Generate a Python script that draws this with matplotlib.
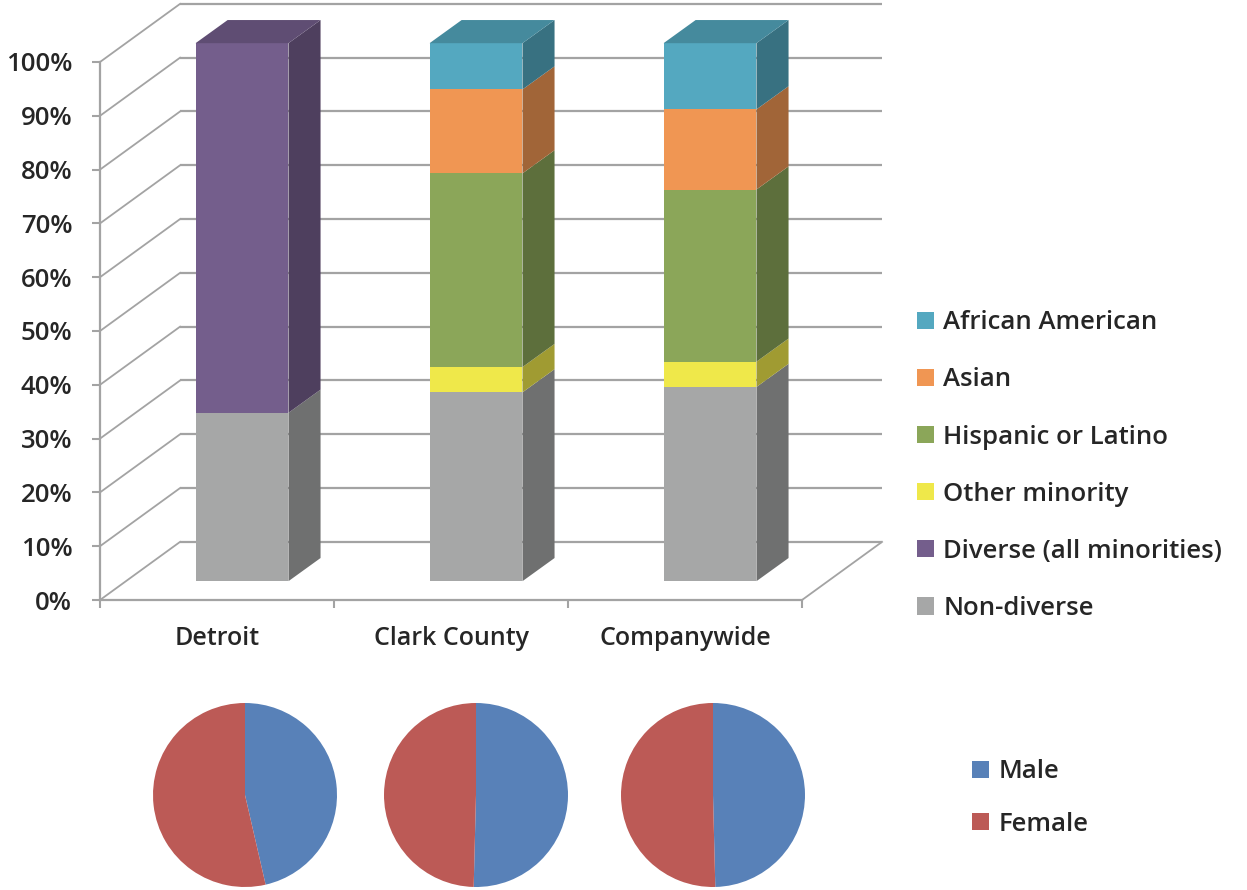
import matplotlib.pyplot as plt
from matplotlib.patches import Polygon, Patch
from matplotlib.colors import to_rgb

plt.rcParams['font.family'] = ['Open Sans', 'DejaVu Sans']
plt.rcParams['font.weight'] = 'semibold'

# Stacked shares (%) per location, bottom to top
locations = ["Detroit", "Clark County", "Companywide"]
series = ["Non-diverse", "Diverse (all minorities)", "Other minority",
          "Hispanic or Latino", "Asian", "African American"]
non_diverse = [31.3, 35.1, 36.1]
diverse_all = [68.7, 0.0, 0.0]
other_minority = [0.0, 4.7, 4.7]
hispanic = [0.0, 36.0, 32.0]
asian = [0.0, 15.6, 14.9]
african_american = [0.0, 8.6, 12.3]
stack = [non_diverse, diverse_all, other_minority, hispanic, asian, african_american]
colors = ["#A6A7A7", "#745E8C", "#EFE84A", "#8BA659", "#F09653", "#54A8C0"]

# Gender split (%) per location
male = [46.4, 50.4, 49.6]
female = [53.6, 49.6, 50.4]
gender_colors = ["#5881B8", "#BC5A56"]

TEXT = "#262626"
GRID = "#A3A3A3"
FS_TICK = 18.5
FS_CAT = 18
FS_LEG = 18.5

# oblique projection offsets (data units)
WALL_DX, WALL_DY = 0.342, 10.8
BAR_DX, BAR_DY = 0.107, 3.5
DEPTH_DX, DEPTH_DY = 0.137, 4.3
BAR_W = 0.397


def shade(c, f):
    r, g, b = to_rgb(c)
    return (r * f, g * f, b * f)


W, H = 1247, 890
fig = plt.figure(figsize=(W / 100, H / 100), dpi=100)
ax = fig.add_axes([100 / W, (H - 600) / H, 702 / W, 538 / H])
ax.set_xlim(0, 3)
ax.set_ylim(0, 100)
for s in ["top", "right"]:
    ax.spines[s].set_visible(False)
for s in ["left", "bottom"]:
    ax.spines[s].set_color(GRID)
    ax.spines[s].set_linewidth(1.6)

# walls and floor
levels = range(0, 101, 10)
for v in levels:
    ax.plot([WALL_DX, 3 + WALL_DX], [v + WALL_DY] * 2, color=GRID, lw=1.6,
            clip_on=False, zorder=1, solid_capstyle="butt")
    ax.plot([0, WALL_DX], [v, v + WALL_DY], color=GRID, lw=1.3,
            clip_on=False, zorder=1)
ax.plot([3, 3 + WALL_DX], [0, WALL_DY], color=GRID, lw=1.3, clip_on=False, zorder=1)

# stacked 3D bars
for i in range(len(locations)):
    x0 = i + 0.5 - BAR_W / 2 + BAR_DX
    x1 = x0 + BAR_W
    base = 0.0
    top_idx = max(k for k in range(len(stack)) if stack[k][i] > 0)
    for k, vals in enumerate(stack):
        v = vals[i]
        if v <= 0:
            continue
        b, t = base + BAR_DY, base + v + BAR_DY
        c = colors[k]
        ax.add_patch(Polygon([(x0, b), (x1, b), (x1, t), (x0, t)],
                             closed=True, fc=c, ec="none", zorder=3, clip_on=False))
        ax.add_patch(Polygon([(x1, b), (x1 + DEPTH_DX, b + DEPTH_DY),
                              (x1 + DEPTH_DX, t + DEPTH_DY), (x1, t)],
                             closed=True, fc=shade(c, 0.67), ec="none", zorder=3,
                             clip_on=False))
        if k == top_idx:
            ax.add_patch(Polygon([(x0, t), (x0 + DEPTH_DX, t + DEPTH_DY),
                                  (x1 + DEPTH_DX, t + DEPTH_DY), (x1, t)],
                                 closed=True, fc=shade(c, 0.82), ec="none",
                                 zorder=3, clip_on=False))
        base += v

ax.set_yticks(list(levels))
ax.set_yticklabels(["%d%%" % v for v in levels])
ax.set_xticks([0, 1, 2, 3])
ax.set_xticklabels([])
ax.set_xticks([0.5, 1.5, 2.5], minor=True)
ax.set_xticklabels(locations, minor=True)
ax.tick_params(axis="y", length=6, width=1.5, color=GRID, pad=14,
               labelsize=FS_TICK, labelcolor=TEXT)
ax.tick_params(axis="x", which="major", length=6, width=1.5, color=GRID)
ax.tick_params(axis="x", which="minor", length=0, pad=19,
               labelsize=FS_CAT, labelcolor=TEXT)

handles = [Patch(fc=colors[k], ec="none") for k in range(len(series))][::-1]
fig.legend(handles, series[::-1], loc="upper left",
           bbox_to_anchor=(907 / W, 1 - 300 / H), frameon=False,
           fontsize=FS_LEG, labelcolor=TEXT, handlelength=0.66, handleheight=0.66,
           handletextpad=0.36, labelspacing=1.25, borderaxespad=0)

# gender pies
centers = [245, 476, 713]
R = 92
for i, cx in enumerate(centers):
    pax = fig.add_axes([(cx - R) / W, (H - 795 - R) / H, 2 * R / W, 2 * R / H])
    pax.pie([male[i], female[i]], colors=gender_colors, startangle=90,
            counterclock=False, radius=1)
    pax.set_xlim(-1, 1)
    pax.set_ylim(-1, 1)
    pax.set_aspect("equal")
    pax.axis("off")

ghandles = [Patch(fc=c, ec="none") for c in gender_colors]
fig.legend(ghandles, ["Male", "Female"], loc="upper left",
           bbox_to_anchor=(962 / W, 1 - 749 / H), frameon=False,
           fontsize=FS_LEG, labelcolor=TEXT, handlelength=0.66, handleheight=0.66,
           handletextpad=0.36, labelspacing=1.07, borderaxespad=0)

fig.savefig("out.png", dpi=100)
